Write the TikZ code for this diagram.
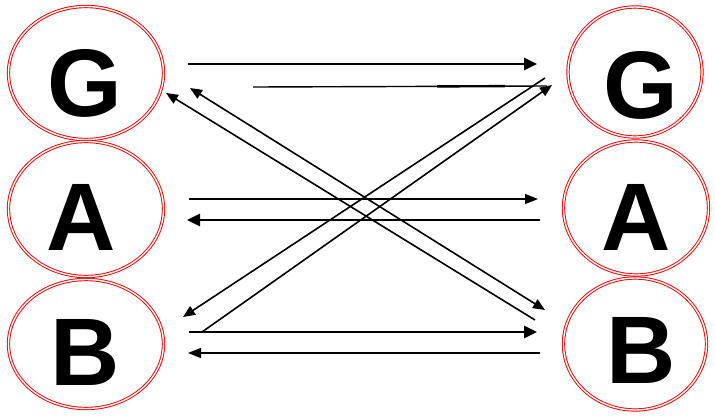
\documentclass[tikz,border=0pt]{standalone}
\usepackage{fontspec}
\setmainfont{Liberation Sans}
\usetikzlibrary{shapes.geometric,arrows.meta,calc}
\tikzset{
  ring/.style={ellipse, draw=red, double=white, double distance=1.4pt, line width=0.95pt, inner sep=0pt},
  letter/.style={inner sep=0pt, font=\fontsize{96}{96}\selectfont\bfseries},
  thick arrow/.style={line width=2.7pt, -{Triangle[length=13pt,width=12pt]}},
  thin arrow/.style={line width=1.4pt, -{Triangle[length=13pt,width=10pt]}},
  thin line/.style={line width=1.4pt},
  diag arrow/.style={line width=1.6pt, -{Triangle[length=12pt,width=10pt]}},
}
\begin{document}
\begin{tikzpicture}[x=1pt,y=-1pt]
\useasboundingbox (0,0) rectangle (715,418);
% rings
\node[ring, minimum width=155pt, minimum height=133pt] (gl) at (86,73) {};
\node[ring, minimum width=155pt, minimum height=135pt] (al) at (86,209) {};
\node[ring, minimum width=155pt, minimum height=129pt] (bl) at (86,344) {};
\node[ring, minimum width=134pt, minimum height=130pt] (gr) at (635,72) {};
\node[ring, minimum width=145pt, minimum height=134pt] (ar) at (636,208) {};
\node[ring, minimum width=143pt, minimum height=132pt] (br) at (635,344) {};
% letters
\node[letter] (tgl) at (85,83) {G};
\node[letter] (tal) at (81,217) {A};
\node[letter] (tbl) at (85,352) {B};
\node[letter] (tgr) at (641,85) {G};
\node[letter] (tar) at (636,217) {A};
\node[letter] (tbr) at (641,350) {B};
% connector end points
\coordinate (g1s) at (188,64);  \coordinate (g1e) at (537,64);
\coordinate (g2s) at (547,86);  \coordinate (g2e) at (253,87);
\coordinate (a1s) at (189,199); \coordinate (a1e) at (538,199);
\coordinate (a2s) at (540,220); \coordinate (a2e) at (187,220);
\coordinate (b1s) at (189,332); \coordinate (b1e) at (537,332);
\coordinate (b2s) at (540,353); \coordinate (b2e) at (188,353);
\coordinate (d1s) at (535,320); \coordinate (d1e) at (166,93);
\coordinate (d2s) at (190,88);  \coordinate (d2e) at (545,310);
\coordinate (d3s) at (202,332); \coordinate (d3e) at (552,85);
\coordinate (d4s) at (545,78);  \coordinate (d4e) at (183,317);
% horizontal connectors
\draw[thick arrow] (g1s) -- (g1e);
\draw[thin line] (g2s) -- (g2e);
\draw[line width=2.4pt] ($(g2s)!0.143!(g2e)$) -- ($(g2s)!0.374!(g2e)$);
\draw[thin arrow] (a1s) -- (a1e);
\draw[thick arrow] (a2s) -- (a2e);
\draw[thick arrow] (b1s) -- (b1e);
\draw[thin arrow] (b2s) -- (b2e);
\draw[line width=2.4pt] ($(b2s)!0.028!(b2e)$) -- ($(b2s)!0.193!(b2e)$);
\draw[line width=2.4pt] ($(b2s)!0.553!(b2e)$) -- ($(b2s)!0.717!(b2e)$);
% diagonal connectors
\draw[diag arrow] (d1s) -- (d1e);
\draw[diag arrow, {Triangle[length=12pt,width=10pt]}-{Triangle[length=12pt,width=10pt]}] (d2s) -- (d2e);
\draw[diag arrow] (d3s) -- (d3e);
\draw[diag arrow] (d4s) -- (d4e);
\end{tikzpicture}
\end{document}
